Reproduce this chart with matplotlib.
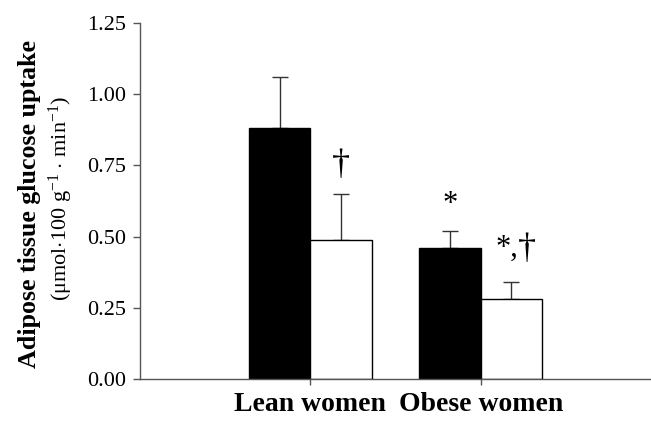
import matplotlib
matplotlib.use("Agg")
import matplotlib.pyplot as plt
import numpy as np

plt.rcParams['font.family'] = ['Liberation Serif', 'DejaVu Serif']
plt.rcParams['mathtext.fontset'] = 'custom'
plt.rcParams['mathtext.rm'] = 'Liberation Serif'
plt.rcParams['mathtext.it'] = 'Liberation Serif:italic'
plt.rcParams['mathtext.bf'] = 'Liberation Serif:bold'

groups = ["Lean women", "Obese women"]
black_vals = [0.88, 0.46]
black_err = [0.18, 0.06]
white_vals = [0.49, 0.28]
white_err = [0.16, 0.06]
black_star = [False, True]
white_star = [False, True]
white_dagger = [True, True]
yticks = [0.00, 0.25, 0.50, 0.75, 1.00, 1.25]

fig = plt.figure(figsize=(6.51, 4.22), dpi=100)
ax = fig.add_axes([140/651, (422-379.3)/422, 1 - 140/651, (379.3-22.7)/422])

x = np.arange(1, len(groups) + 1)
w = 0.36
ax.bar(x - w/2, black_vals, w, color='black', edgecolor='black', linewidth=1, zorder=2)
ax.bar(x + w/2, white_vals, w, color='white', edgecolor='black', linewidth=1, zorder=2)
ax.errorbar(x - w/2, black_vals, yerr=[np.zeros(len(x)), black_err], fmt='none',
            ecolor='#333333', elinewidth=1, capsize=5.5, capthick=1, zorder=1)
ax.errorbar(x + w/2, white_vals, yerr=[np.zeros(len(x)), white_err], fmt='none',
            ecolor='#333333', elinewidth=1, capsize=5.5, capthick=1, zorder=1)

# significance marks
for xi, v, e, st in zip(x - w/2, black_vals, black_err, black_star):
    if st:
        ax.annotate("*", xy=(xi, v + e), xytext=(0, 19), textcoords='offset pixels',
                    ha='center', va='baseline', fontsize=22)
for xi, v, e, st, dg in zip(x + w/2, white_vals, white_err, white_star, white_dagger):
    if st and dg:
        ax.annotate("*,", xy=(xi, v + e), xytext=(7, 26), textcoords='offset pixels',
                    ha='right', va='baseline', fontsize=22)
        ax.annotate("\u2020", xy=(xi, v + e), xytext=(7, 24), textcoords='offset pixels',
                    ha='left', va='baseline', fontsize=26)
    elif dg:
        ax.annotate("\u2020", xy=(xi, v + e), xytext=(0, 20), textcoords='offset pixels',
                    ha='center', va='baseline', fontsize=26)

ax.set_xlim(0, 3)
ax.set_ylim(0, 1.25)
ax.set_yticks(yticks)
ax.set_yticklabels([f"{t:.2f}" for t in yticks], fontsize=16)
ax.set_xticks(x)
ax.set_xticklabels(groups, fontsize=20, fontweight='bold')
ax.tick_params(axis='y', direction='out', length=5, width=1, color='#555555', pad=5)
ax.tick_params(axis='x', direction='out', length=4, width=1, color='#555555', pad=5)
for s in ['top', 'right']:
    ax.spines[s].set_visible(False)
for s in ['left', 'bottom']:
    ax.spines[s].set_color('#555555')
    ax.spines[s].set_linewidth(1)

fig.text(30/651, 1 - 204.5/422, "Adipose tissue glucose uptake", rotation=90,
         ha='center', va='center', fontsize=18.7, fontweight='bold')
fig.text(61/651, 1 - 198/422, r"($\mathrm{\mu}$mol$\cdot$100 g$^{-1}$ $\cdot$ min$^{-1}$)", rotation=90,
         ha='center', va='center', fontsize=16)

fig.savefig("out.png", dpi=100)
